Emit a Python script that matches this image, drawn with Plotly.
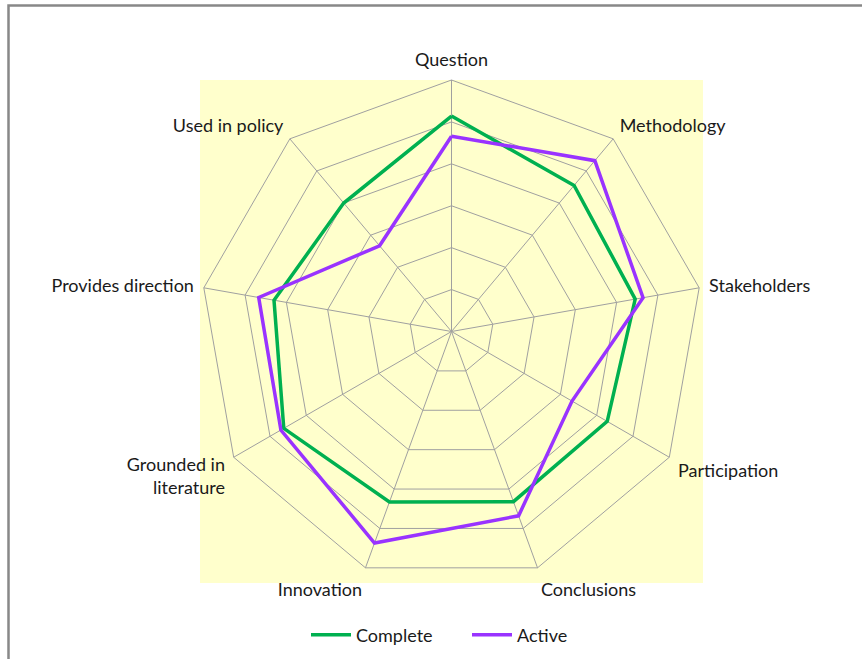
import plotly.graph_objects as go

categories = ["Question", "Methodology", "Stakeholders", "Participation", "Conclusions",
              "Innovation", "Grounded in<br>literature", "Provides direction", "Used in policy"]
complete = [5.14, 4.55, 4.45, 4.29, 4.32, 4.33, 4.62, 4.30, 4.00]
active = [4.66, 5.32, 4.64, 3.32, 4.68, 5.37, 4.70, 4.67, 2.67]
series_names = ["Complete", "Active"]
series_colors = ["#00B050", "#9933FF"]

W, H = 862, 659
dom_x = [200 / W, 703 / W]
dom_y = [1 - 583 / H, 1 - 80 / H]

fig = go.Figure()
for name, vals, col in zip(series_names, [complete, active], series_colors):
    fig.add_trace(go.Scatterpolar(
        r=vals + vals[:1], theta=categories + categories[:1], mode="lines",
        name=name, line=dict(color=col, width=3.5),
    ))

fig.update_layout(
    width=W, height=H, margin=dict(l=0, r=0, t=0, b=0),
    paper_bgcolor="white",
    font=dict(family="Lato, Carlito, sans-serif", size=18, color="#1a1a1a"),
    polar=dict(
        domain=dict(x=dom_x, y=dom_y),
        bgcolor="rgba(0,0,0,0)",
        gridshape="linear",
        angularaxis=dict(rotation=90, direction="clockwise", gridcolor="#A0A0A0",
                         linecolor="#A0A0A0", showline=True, ticks="outside",
                         ticklen=6, tickcolor="rgba(0,0,0,0)",
                         tickfont=dict(size=18)),
        radialaxis=dict(range=[0, 6], dtick=1, showticklabels=False, ticks="",
                        showline=False, gridcolor="#A0A0A0", angle=90),
    ),
    legend=dict(orientation="h", x=306 / W, xanchor="left", y=1 - 635 / H, yanchor="middle",
                font=dict(size=18), itemwidth=40, entrywidth=106, bgcolor="rgba(0,0,0,0)"),
    shapes=[
        dict(type="rect", xref="paper", yref="paper", x0=dom_x[0], x1=dom_x[1],
             y0=dom_y[0], y1=dom_y[1], fillcolor="#FFFFCC", line=dict(width=0), layer="below"),
        dict(type="rect", xref="paper", yref="paper", x0=8.5 / W, x1=1.2,
             y0=-0.2, y1=1 - 5.5 / H, line=dict(color="#888888", width=2.5),
             fillcolor="rgba(0,0,0,0)", layer="above"),
    ],
)

fig.write_html("out.html", config={"displayModeBar": False},
               post_script="document.body.style.margin='0';")
